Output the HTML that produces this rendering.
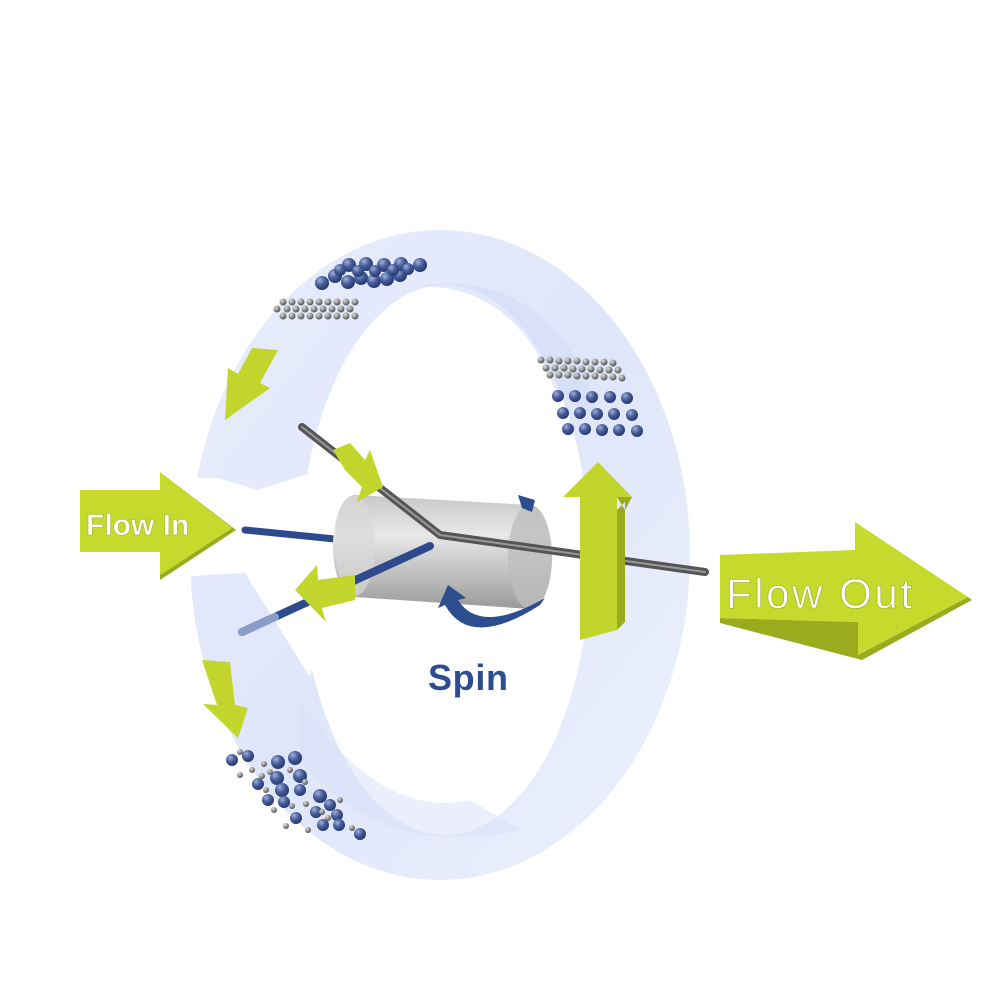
<!DOCTYPE html>
<html><head><meta charset="utf-8"><style>html,body{margin:0;padding:0;background:#fff}svg{display:block}</style></head>
<body>
<svg width="1000" height="1000" viewBox="0 0 1000 1000" xmlns="http://www.w3.org/2000/svg">
<defs>
<radialGradient id="sb" cx="35%" cy="30%" r="70%"><stop offset="0" stop-color="#9fb0dd"/><stop offset=".5" stop-color="#4a5f9a"/><stop offset="1" stop-color="#243a70"/></radialGradient>
<radialGradient id="sg" cx="35%" cy="30%" r="70%"><stop offset="0" stop-color="#ddd"/><stop offset="1" stop-color="#555"/></radialGradient>
<linearGradient id="cyl" x1="0" y1="0" x2="0" y2="1"><stop offset="0" stop-color="#c8c8c8"/><stop offset=".35" stop-color="#e8e8e8"/><stop offset="1" stop-color="#9a9a9a"/></linearGradient>
<linearGradient id="ring" x1="0" y1="0" x2="1" y2="1"><stop offset="0" stop-color="#e9eefc"/><stop offset=".5" stop-color="#dfe6fa"/><stop offset="1" stop-color="#eef2fd"/></linearGradient>
</defs>
<!-- ring -->
<path fill-rule="evenodd" fill="url(#ring)" d="M440,230 A250,325 0 1,1 439.9,230 Z M445,285 A145,275 0 1,0 445.1,285 Z"/>
<path fill="#d3dcf7" opacity=".6" d="M420,285 Q560,270 600,420 L555,390 Q520,300 445,288 Z"/>
<path fill="#d8e0f8" opacity=".5" d="M300,700 Q380,820 470,800 L520,830 Q380,860 300,760 Z"/>
<!-- gap -->
<path fill="#fff" d="M140,478 L218,478 L258,490 L320,470 L330,600 L310,677 L245,573 L205,575 L140,582 Z"/>
<!-- Flow In arrow -->
<path fill="#9aab1d" d="M160,472 L232,528 L160,575 L160,580 L236,530 Z"/>
<path fill="#c5da2c" d="M80,490 L160,490 L160,472 L232,528 L160,575 L160,552 L80,552 Z"/>
<text x="86" y="535" font-family="Liberation Sans, sans-serif" font-weight="bold" font-size="30" fill="#fff" stroke="#9aab1d" stroke-width=".5">Flow In</text>
<!-- Flow Out arrow -->
<path fill="#9aab1d" d="M720,618 L858,622 L858,655 L968,597 L972,600 L862,660 L720,623 Z"/>
<path fill="#c5da2c" d="M720,555 L855,550 L855,522 L968,597 L858,655 L858,622 L720,618 Z"/>
<text x="726" y="608" font-family="Liberation Sans, sans-serif" font-size="42" fill="#fff" stroke="#9aab1d" stroke-width=".6" textLength="186">Flow Out</text>
<!-- rods behind -->
<line x1="245" y1="530" x2="345" y2="540" stroke="#2d4a8c" stroke-width="7" stroke-linecap="round"/>
<!-- cylinder -->
<path fill="url(#cyl)" d="M355,495 L530,505 A22,52 0 0,1 530,609 L355,597 A22,51 0 0,1 355,495 Z"/>
<ellipse cx="530" cy="557" rx="22" ry="52" fill="#bdbdbd" opacity=".8"/>
<ellipse cx="355" cy="546" rx="20" ry="50" fill="#d8d8d8" opacity=".7"/>
<!-- rods -->
<polyline points="302,427 440,535 705,572" fill="none" stroke="#555" stroke-width="8" stroke-linecap="round" stroke-linejoin="round"/>
<polyline points="302,427 440,535 705,572" fill="none" stroke="#999" stroke-width="2" stroke-linecap="round"/>
<line x1="242" y1="632" x2="430" y2="546" stroke="#2d4a8c" stroke-width="8" stroke-linecap="round"/>
<line x1="242" y1="632" x2="275" y2="617" stroke="#8a9cc8" stroke-width="8" stroke-linecap="round"/>
<!-- spin arrow -->
<path fill="#2c4d8e" d="M448,585 L438,608 L445,605 Q470,650 540,605 L545,598 Q480,635 458,600 L466,598 Z"/>
<path fill="#2c4d8e" d="M518,495 L535,500 L532,512 L522,508 Z"/>
<text x="428" y="690" font-family="Liberation Sans, sans-serif" font-weight="bold" font-size="36" fill="#2c4d8e" textLength="80">Spin</text>
<!-- small green arrows -->
<g fill="#c2d52c">
<path d="M252,348 L278,350 L260,383 L270,388 L225,420 L228,368 L238,374 Z"/>
<path d="M333,450 L350,443 L365,460 L370,450 L383,487 L357,502 L362,487 L345,470 Z"/>
<path d="M355,575 L355,600 L322,608 L326,622 L295,590 L317,565 L318,580 Z"/>
<path d="M202,660 L230,662 L235,705 L248,708 L238,738 L203,704 L217,705 Z"/>
<path d="M598,462 L632,497 L617,497 L617,630 L580,640 L580,497 L563,497 Z"/>
</g>
<path fill="#9aab1d" d="M617,497 L632,497 L625,510 Z M617,630 L625,622 L625,502 L617,510 Z"/>
<!-- particles top -->
<g fill="url(#sb)">
<circle cx="322" cy="283" r="7"/><circle cx="335" cy="276" r="7"/><circle cx="348" cy="282" r="7"/><circle cx="361" cy="278" r="7"/><circle cx="374" cy="281" r="7"/><circle cx="387" cy="279" r="7"/><circle cx="400" cy="275" r="7"/><circle cx="420" cy="265" r="7"/>
<circle cx="349" cy="265" r="7"/><circle cx="366" cy="264" r="7"/><circle cx="384" cy="265" r="7"/><circle cx="401" cy="264" r="7"/>
<circle cx="340" cy="270" r="6"/><circle cx="358" cy="271" r="6"/><circle cx="375" cy="271" r="6"/><circle cx="393" cy="270" r="6"/><circle cx="408" cy="269" r="6"/>
</g>
<g fill="url(#sg)">
<circle cx="283" cy="316" r="3.5"/><circle cx="292" cy="316" r="3.5"/><circle cx="301" cy="316" r="3.5"/><circle cx="310" cy="316" r="3.5"/><circle cx="319" cy="316" r="3.5"/><circle cx="328" cy="316" r="3.5"/><circle cx="337" cy="316" r="3.5"/><circle cx="346" cy="316" r="3.5"/><circle cx="355" cy="316" r="3.5"/>
<circle cx="277" cy="309" r="3.5"/>
<circle cx="287" cy="309" r="3.5"/><circle cx="296" cy="309" r="3.5"/><circle cx="305" cy="309" r="3.5"/><circle cx="314" cy="309" r="3.5"/><circle cx="323" cy="309" r="3.5"/><circle cx="332" cy="309" r="3.5"/><circle cx="341" cy="309" r="3.5"/><circle cx="350" cy="309" r="3.5"/>
<circle cx="283" cy="302" r="3.5"/><circle cx="292" cy="302" r="3.5"/><circle cx="301" cy="302" r="3.5"/><circle cx="310" cy="302" r="3.5"/><circle cx="319" cy="302" r="3.5"/><circle cx="328" cy="302" r="3.5"/><circle cx="337" cy="302" r="3.5"/><circle cx="346" cy="302" r="3.5"/><circle cx="355" cy="302" r="3.5"/>
</g>
<!-- particles right -->
<g fill="url(#sg)">
<circle cx="541" cy="360" r="3.5"/><circle cx="550" cy="360" r="3.5"/><circle cx="559" cy="361" r="3.5"/><circle cx="568" cy="361" r="3.5"/><circle cx="577" cy="361" r="3.5"/><circle cx="586" cy="362" r="3.5"/><circle cx="595" cy="362" r="3.5"/><circle cx="604" cy="362" r="3.5"/><circle cx="613" cy="363" r="3.5"/>
<circle cx="546" cy="368" r="3.5"/><circle cx="555" cy="368" r="3.5"/><circle cx="564" cy="368" r="3.5"/><circle cx="573" cy="369" r="3.5"/><circle cx="582" cy="369" r="3.5"/><circle cx="591" cy="369" r="3.5"/><circle cx="600" cy="370" r="3.5"/><circle cx="609" cy="370" r="3.5"/><circle cx="618" cy="370" r="3.5"/>
<circle cx="550" cy="375" r="3.5"/><circle cx="559" cy="375" r="3.5"/><circle cx="568" cy="375" r="3.5"/><circle cx="577" cy="376" r="3.5"/><circle cx="586" cy="376" r="3.5"/><circle cx="595" cy="376" r="3.5"/><circle cx="604" cy="377" r="3.5"/><circle cx="613" cy="377" r="3.5"/><circle cx="622" cy="378" r="3.5"/>
</g>
<g fill="url(#sb)">
<circle cx="558" cy="396" r="6"/><circle cx="575" cy="396" r="6"/><circle cx="592" cy="397" r="6"/><circle cx="610" cy="397" r="6"/><circle cx="627" cy="398" r="6"/>
<circle cx="563" cy="413" r="6"/><circle cx="580" cy="413" r="6"/><circle cx="597" cy="414" r="6"/><circle cx="614" cy="414" r="6"/><circle cx="632" cy="415" r="6"/>
<circle cx="568" cy="429" r="6"/><circle cx="585" cy="429" r="6"/><circle cx="602" cy="430" r="6"/><circle cx="619" cy="430" r="6"/><circle cx="637" cy="431" r="6"/>
</g>
<!-- particles bottom -->
<g fill="url(#sb)">
<circle cx="232" cy="760" r="6"/><circle cx="248" cy="756" r="6"/><circle cx="278" cy="762" r="7"/><circle cx="295" cy="758" r="7"/><circle cx="277" cy="778" r="7"/><circle cx="300" cy="776" r="7"/><circle cx="258" cy="784" r="6"/><circle cx="282" cy="790" r="7"/><circle cx="300" cy="790" r="6"/><circle cx="268" cy="800" r="6"/><circle cx="284" cy="802" r="6"/><circle cx="320" cy="796" r="7"/><circle cx="330" cy="805" r="6"/><circle cx="316" cy="812" r="6"/><circle cx="337" cy="815" r="6"/><circle cx="296" cy="818" r="6"/><circle cx="323" cy="825" r="6"/><circle cx="339" cy="825" r="6"/><circle cx="360" cy="834" r="6"/>
</g>
<g fill="url(#sg)">
<circle cx="240" cy="752" r="3"/><circle cx="264" cy="764" r="3"/><circle cx="240" cy="775" r="3"/><circle cx="252" cy="770" r="3"/><circle cx="270" cy="772" r="3"/><circle cx="290" cy="770" r="3"/><circle cx="305" cy="782" r="3"/><circle cx="266" cy="790" r="3"/><circle cx="274" cy="810" r="3"/><circle cx="292" cy="806" r="3"/><circle cx="306" cy="804" r="3"/><circle cx="286" cy="826" r="3"/><circle cx="308" cy="830" r="3"/><circle cx="322" cy="812" r="3"/><circle cx="328" cy="818" r="3"/><circle cx="340" cy="800" r="3"/><circle cx="352" cy="828" r="3"/><circle cx="262" cy="776" r="3"/>
</g>
</svg>
</body></html>
